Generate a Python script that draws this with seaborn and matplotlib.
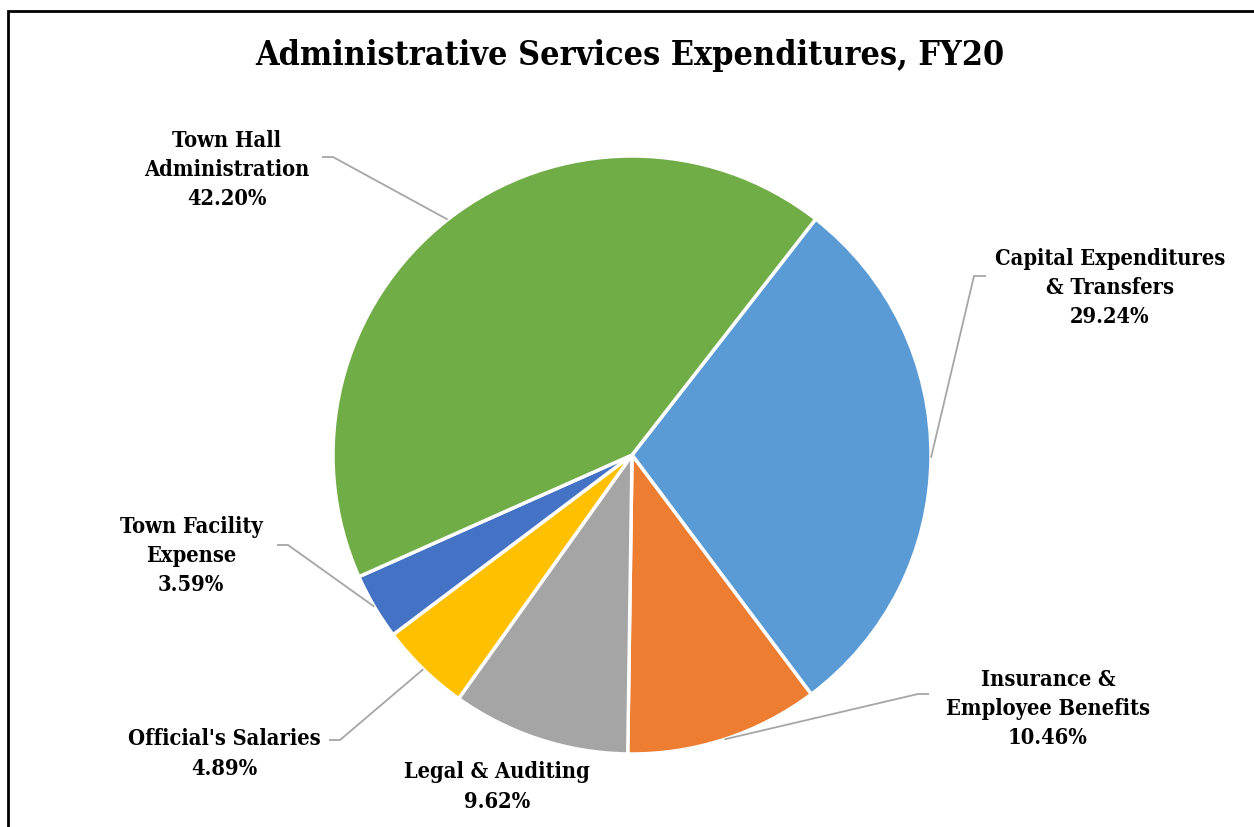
import numpy as np
import matplotlib
matplotlib.use("Agg")
import matplotlib.pyplot as plt
import seaborn as sns

# Administrative Services expenditure shares, FY20 (clockwise order)
categories = [
    "Capital Expenditures\n& Transfers",
    "Insurance &\nEmployee Benefits",
    "Legal & Auditing",
    "Official's Salaries",
    "Town Facility\nExpense",
    "Town Hall\nAdministration",
]
shares = [29.24, 10.46, 9.62, 4.89, 3.59, 42.20]
slice_colors = ["#5B9BD5", "#ED7D31", "#A5A5A5", "#FFC000", "#4472C4", "#70AD47"]

sns.set_theme(style="white")
plt.rcParams["font.family"] = ["DejaVu Serif"]
plt.rcParams["font.stretch"] = "condensed"

W, H = 1254, 827
fig = plt.figure(figsize=(W / 100, H / 100), dpi=100)
ax = fig.add_axes([0, 0, 1, 1])

# pie geometry in pixel units (y measured upward)
cx, cy, R = 632, H - 455, 299
start = 52.1  # degrees, counter-clockwise from 3 o'clock

wedges, _ = ax.pie(
    shares, colors=slice_colors, startangle=start, counterclock=False,
    center=(cx, cy), radius=R,
    wedgeprops=dict(edgecolor="white", linewidth=2.5),
)
ax.set_xlim(0, W)
ax.set_ylim(0, H)
ax.set_aspect("equal")
ax.axis("off")

# label layout: text centre, elbow of the leader, end of the short tail
layout = {
    0: dict(text=(1110, 288), elbow=(974, 276), tail=(986, 276)),
    1: dict(text=(1048, 709), elbow=(918, 694), tail=(929, 694)),
    2: dict(text=(497, 787), elbow=None, tail=None),
    3: dict(text=(224, 754), elbow=(340, 740), tail=(329, 740)),
    4: dict(text=(191, 556), elbow=(288, 545), tail=(277, 545)),
    5: dict(text=(227, 170), elbow=(333, 157), tail=(322, 157)),
}

lbl_font = dict(fontsize=15.7, fontweight="bold", fontstretch="condensed",
                color="black", ha="center", va="center", linespacing=1.42)
for i, w in enumerate(wedges):
    mid = np.deg2rad((w.theta1 + w.theta2) / 2)
    px, py = cx + R * np.cos(mid), cy + R * np.sin(mid)
    spec = layout[i]
    tx, ty = spec["text"]
    ax.text(tx, H - ty, f"{categories[i]}\n{shares[i]:.2f}%", **lbl_font)
    if spec["elbow"] is not None:
        ex, ey = spec["elbow"]
        sx, sy = spec["tail"]
        ax.plot([px, ex, sx], [py, H - ey, H - sy], color="#A6A6A6",
                linewidth=1.3, solid_capstyle="butt", zorder=1)

ax.text(630, H - 55, "Administrative Services Expenditures, FY20",
        fontsize=24.4, fontweight="bold", fontstretch="condensed",
        color="black", ha="center", va="center")

# chart frame (left and top edges visible)
ax.plot([8, 8, W + 5], [-5, H - 11, H - 11], color="black", linewidth=2,
        solid_joinstyle="miter", clip_on=False)

fig.savefig("out.png", dpi=100, facecolor="white")
